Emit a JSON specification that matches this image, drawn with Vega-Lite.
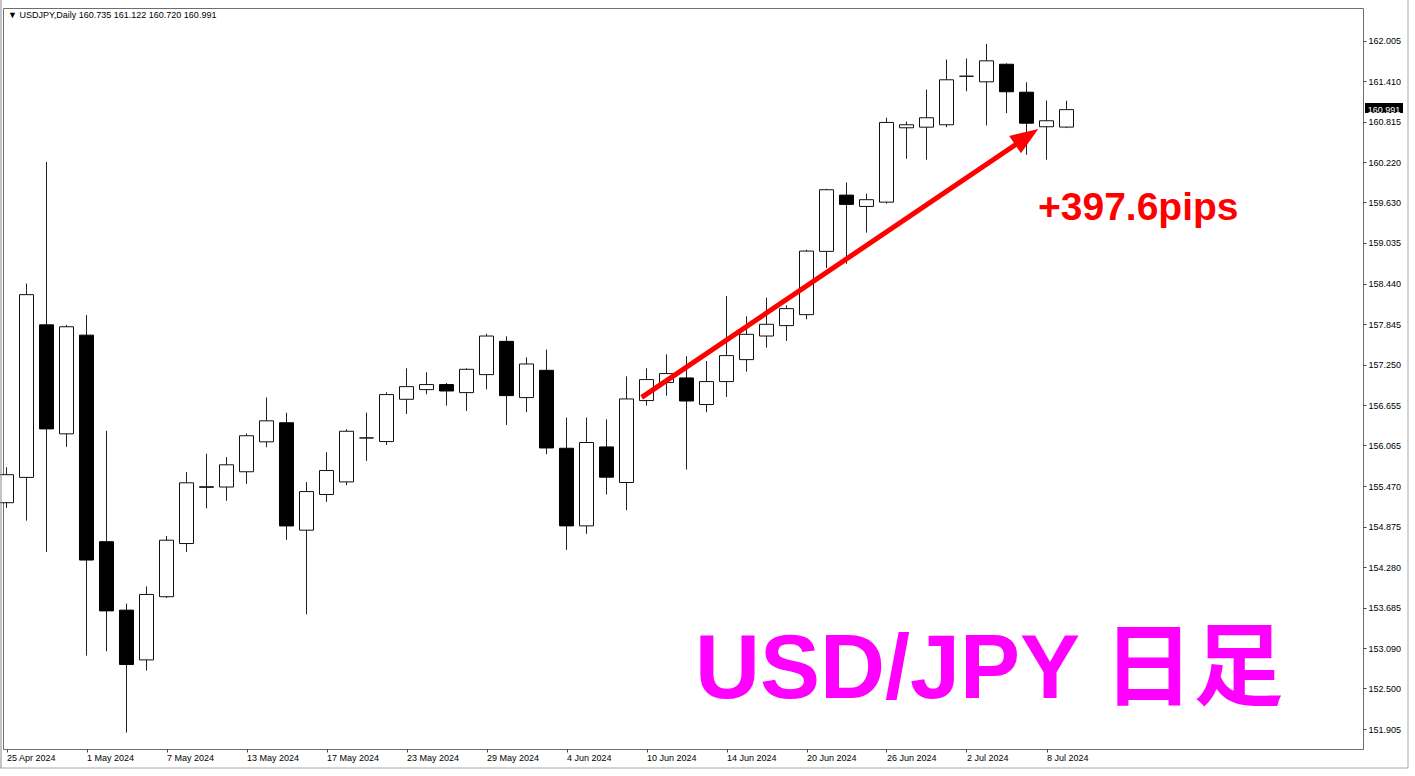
{
  "$schema": "https://vega.github.io/schema/vega-lite/v6.json",
  "width": 1360,
  "height": 741,
  "autosize": {"type": "none"},
  "padding": {"left": 3, "top": 8, "right": 52, "bottom": 27},
  "background": "white",
  "config": {
    "view": {"stroke": "#6e6e6e", "strokeWidth": 1},
    "font": "Liberation Sans",
    "scale": {"continuousPadding": 0}
  },
  "datasets": {
    "candles": [
      {"i": 0, "d": "25 Apr", "o": 155.225, "h": 155.746, "l": 155.15, "c": 155.636},
      {"i": 1, "d": "26 Apr", "o": 155.596, "h": 158.44, "l": 154.962, "c": 158.277},
      {"i": 2, "d": "29 Apr", "o": 157.834, "h": 160.224, "l": 154.502, "c": 156.308},
      {"i": 3, "d": "30 Apr", "o": 156.235, "h": 157.834, "l": 156.044, "c": 157.806},
      {"i": 4, "d": "1 May", "o": 157.683, "h": 157.979, "l": 152.982, "c": 154.384},
      {"i": 5, "d": "2 May", "o": 154.653, "h": 156.28, "l": 153.044, "c": 153.638},
      {"i": 6, "d": "3 May", "o": 153.649, "h": 153.745, "l": 151.854, "c": 152.852},
      {"i": 7, "d": "6 May", "o": 152.919, "h": 153.997, "l": 152.762, "c": 153.879},
      {"i": 8, "d": "7 May", "o": 153.846, "h": 154.737, "l": 153.828, "c": 154.675},
      {"i": 9, "d": "8 May", "o": 154.626, "h": 155.674, "l": 154.502, "c": 155.517},
      {"i": 10, "d": "9 May", "o": 155.45, "h": 155.943, "l": 155.142, "c": 155.46},
      {"i": 11, "d": "10 May", "o": 155.455, "h": 155.894, "l": 155.253, "c": 155.781},
      {"i": 12, "d": "13 May", "o": 155.679, "h": 156.241, "l": 155.501, "c": 156.207},
      {"i": 13, "d": "14 May", "o": 156.118, "h": 156.769, "l": 156.039, "c": 156.426},
      {"i": 14, "d": "15 May", "o": 156.398, "h": 156.544, "l": 154.681, "c": 154.884},
      {"i": 15, "d": "16 May", "o": 154.822, "h": 155.528, "l": 153.588, "c": 155.388},
      {"i": 16, "d": "17 May", "o": 155.345, "h": 155.965, "l": 155.237, "c": 155.697},
      {"i": 17, "d": "20 May", "o": 155.53, "h": 156.302, "l": 155.482, "c": 156.273},
      {"i": 18, "d": "21 May", "o": 156.175, "h": 156.547, "l": 155.838, "c": 156.175},
      {"i": 19, "d": "22 May", "o": 156.122, "h": 156.845, "l": 156.072, "c": 156.811},
      {"i": 20, "d": "23 May", "o": 156.742, "h": 157.197, "l": 156.527, "c": 156.928},
      {"i": 21, "d": "24 May", "o": 156.884, "h": 157.138, "l": 156.816, "c": 156.958},
      {"i": 22, "d": "27 May", "o": 156.958, "h": 156.981, "l": 156.65, "c": 156.864},
      {"i": 23, "d": "28 May", "o": 156.84, "h": 157.197, "l": 156.571, "c": 157.182},
      {"i": 24, "d": "29 May", "o": 157.104, "h": 157.705, "l": 156.889, "c": 157.67},
      {"i": 25, "d": "30 May", "o": 157.592, "h": 157.666, "l": 156.366, "c": 156.796},
      {"i": 26, "d": "31 May", "o": 156.767, "h": 157.358, "l": 156.552, "c": 157.26},
      {"i": 27, "d": "3 Jun", "o": 157.167, "h": 157.471, "l": 155.936, "c": 156.028},
      {"i": 28, "d": "4 Jun", "o": 156.024, "h": 156.474, "l": 154.533, "c": 154.885},
      {"i": 29, "d": "5 Jun", "o": 154.885, "h": 156.474, "l": 154.768, "c": 156.108},
      {"i": 30, "d": "6 Jun", "o": 156.043, "h": 156.449, "l": 155.345, "c": 155.599},
      {"i": 31, "d": "7 Jun", "o": 155.521, "h": 157.079, "l": 155.115, "c": 156.747},
      {"i": 32, "d": "10 Jun", "o": 156.723, "h": 157.197, "l": 156.65, "c": 157.031},
      {"i": 33, "d": "11 Jun", "o": 156.987, "h": 157.402, "l": 156.796, "c": 157.119},
      {"i": 34, "d": "12 Jun", "o": 157.055, "h": 157.373, "l": 155.712, "c": 156.717},
      {"i": 35, "d": "13 Jun", "o": 156.665, "h": 157.304, "l": 156.552, "c": 157.002},
      {"i": 36, "d": "14 Jun", "o": 157.002, "h": 158.256, "l": 156.776, "c": 157.383},
      {"i": 37, "d": "17 Jun", "o": 157.324, "h": 157.959, "l": 157.148, "c": 157.695},
      {"i": 38, "d": "18 Jun", "o": 157.67, "h": 158.233, "l": 157.5, "c": 157.842},
      {"i": 39, "d": "19 Jun", "o": 157.823, "h": 158.12, "l": 157.597, "c": 158.072},
      {"i": 40, "d": "20 Jun", "o": 157.984, "h": 158.937, "l": 157.915, "c": 158.916},
      {"i": 41, "d": "21 Jun", "o": 158.912, "h": 159.83, "l": 158.667, "c": 159.816},
      {"i": 42, "d": "24 Jun", "o": 159.737, "h": 159.923, "l": 158.731, "c": 159.601},
      {"i": 43, "d": "25 Jun", "o": 159.571, "h": 159.758, "l": 159.186, "c": 159.67},
      {"i": 44, "d": "26 Jun", "o": 159.634, "h": 160.872, "l": 159.611, "c": 160.803},
      {"i": 45, "d": "27 Jun", "o": 160.725, "h": 160.817, "l": 160.271, "c": 160.769},
      {"i": 46, "d": "28 Jun", "o": 160.734, "h": 161.286, "l": 160.256, "c": 160.872},
      {"i": 47, "d": "1 Jul", "o": 160.769, "h": 161.726, "l": 160.734, "c": 161.429},
      {"i": 48, "d": "2 Jul", "o": 161.481, "h": 161.741, "l": 161.261, "c": 161.481},
      {"i": 49, "d": "3 Jul", "o": 161.399, "h": 161.956, "l": 160.759, "c": 161.707},
      {"i": 50, "d": "4 Jul", "o": 161.657, "h": 161.67, "l": 160.939, "c": 161.253},
      {"i": 51, "d": "5 Jul", "o": 161.247, "h": 161.393, "l": 160.329, "c": 160.792},
      {"i": 52, "d": "8 Jul", "o": 160.74, "h": 161.125, "l": 160.256, "c": 160.828},
      {"i": 53, "d": "9 Jul", "o": 160.735, "h": 161.122, "l": 160.72, "c": 160.991}
    ]
  },
  "data": {"name": "candles"},
  "layer": [
    {
      "mark": {"type": "rule", "color": "#222222", "strokeWidth": 1},
      "encoding": {
        "x": {
          "field": "i", "type": "quantitative",
          "scale": {"domain": [-0.175, 67.825], "nice": false, "zero": false, "padding": 0},
          "axis": {
            "orient": "bottom",
            "values": [0, 4, 8, 12, 16, 20, 24, 28, 32, 36, 40, 44, 48, 52],
            "labelExpr": "['25 Apr 2024','1 May 2024','7 May 2024','13 May 2024','17 May 2024','23 May 2024','29 May 2024','4 Jun 2024','10 Jun 2024','14 Jun 2024','20 Jun 2024','26 Jun 2024','2 Jul 2024','8 Jul 2024'][round(datum.value/4)]",
            "title": null, "grid": false, "domain": false,
            "tickSize": 3, "tickColor": "#444444",
            "labelAlign": "left", "labelBaseline": "top", "labelPadding": 1,
            "labelFontSize": 9, "labelFont": "Liberation Sans", "labelColor": "#000000",
            "labelOverlap": false, "labelBound": false, "labelFlush": false
          }
        },
        "y": {
          "field": "l", "type": "quantitative",
          "scale": {"domain": [151.612, 162.482], "nice": false, "zero": false, "padding": 0},
          "axis": {
            "orient": "right",
            "values": [151.905, 152.5, 153.09, 153.685, 154.28, 154.875, 155.47, 156.065, 156.655, 157.25, 157.845, 158.44, 159.035, 159.63, 160.22, 160.815, 161.41, 162.005],
            "format": ".3f", "title": null, "grid": false, "domain": false,
            "tickSize": 3, "tickColor": "#444444",
            "labelFontSize": 9, "labelFont": "Liberation Sans", "labelColor": "#000000",
            "labelPadding": 2, "labelBaseline": "middle", "labelOverlap": false, "labelBound": false, "labelFlush": false
          }
        },
        "y2": {"field": "h"}
      }
    },
    {
      "transform": [{"filter": "datum.c >= datum.o"}],
      "mark": {"type": "bar", "size": 14, "fill": "#ffffff", "stroke": "#111111", "strokeWidth": 1},
      "encoding": {
        "x": {"field": "i", "type": "quantitative"},
        "y": {"field": "o", "type": "quantitative"},
        "y2": {"field": "c"}
      }
    },
    {
      "transform": [{"filter": "datum.c < datum.o"}],
      "mark": {"type": "bar", "size": 14, "fill": "#000000", "stroke": "#000000", "strokeWidth": 1},
      "encoding": {
        "x": {"field": "i", "type": "quantitative"},
        "y": {"field": "o", "type": "quantitative"},
        "y2": {"field": "c"}
      }
    },
    {
      "data": {"values": [{}]},
      "mark": {"type": "rule", "color": "#a8a8a8", "strokeWidth": 1},
      "encoding": {
        "x": {"datum": 70.075, "type": "quantitative"},
        "y": {"datum": 162.599, "type": "quantitative"},
        "y2": {"datum": 151.333}
      }
    },
    {
      "data": {"values": [{}]},
      "mark": {"type": "rule", "color": "#a8a8a8", "strokeWidth": 1},
      "encoding": {
        "x": {"datum": -0.325, "type": "quantitative"},
        "x2": {"datum": 70.075},
        "y": {"datum": 151.333, "type": "quantitative"}
      }
    },
    {
      "data": {"values": [{}]},
      "mark": {"type": "rule", "color": "#8a8a8a", "strokeWidth": 1},
      "encoding": {
        "x": {"datum": -0.275, "type": "quantitative"},
        "y": {"datum": 162.599, "type": "quantitative"},
        "y2": {"datum": 151.333}
      }
    },
    {
      "data": {"values": [{}]},
      "mark": {"type": "rule", "color": "#ff0000", "strokeWidth": 5, "strokeCap": "butt"},
      "encoding": {
        "x": {"datum": 31.76, "type": "quantitative"},
        "y": {"datum": 156.771, "type": "quantitative"},
        "x2": {"datum": 51.0},
        "y2": {"datum": 160.585}
      }
    },
    {
      "data": {"values": [{}]},
      "mark": {"type": "point", "shape": "M0,-1L0.75,1L-0.75,1Z", "filled": true, "color": "#ff0000", "opacity": 1, "size": 784, "angle": 56},
      "encoding": {
        "x": {"datum": 51.01, "type": "quantitative"},
        "y": {"datum": 160.592, "type": "quantitative"}
      }
    },
    {
      "data": {"values": [{}]},
      "mark": {"type": "text", "text": "+397.6pips", "font": "'Liberation Sans', Arial, sans-serif", "fontSize": 39, "fontWeight": "bold", "color": "#ff0000", "align": "left", "baseline": "alphabetic"},
      "encoding": {
        "x": {"datum": 51.575, "type": "quantitative"},
        "y": {"datum": 159.372, "type": "quantitative"}
      }
    },
    {
      "data": {"values": [{}]},
      "mark": {"type": "text", "text": "USD/JPY 日足", "font": "'Liberation Sans', 'Noto Sans CJK JP', sans-serif", "fontSize": 90, "fontWeight": "bold", "color": "#ff00ff", "align": "left", "baseline": "alphabetic"},
      "encoding": {
        "x": {"datum": 34.425, "type": "quantitative"},
        "y": {"datum": 152.36, "type": "quantitative"}
      }
    },
    {
      "data": {"values": [{}]},
      "mark": {"type": "text", "text": "▼ USDJPY,Daily  160.735 161.122 160.720 160.991", "font": "'Liberation Sans', 'DejaVu Sans', sans-serif", "fontSize": 9, "color": "#000000", "align": "left", "baseline": "middle"},
      "encoding": {
        "x": {"datum": 0.075, "type": "quantitative"},
        "y": {"datum": 162.379, "type": "quantitative"}
      }
    },
    {
      "data": {"values": [{}]},
      "mark": {"type": "rect", "fill": "#000000"},
      "encoding": {
        "x": {"datum": 67.925, "type": "quantitative"},
        "x2": {"datum": 69.825},
        "y": {"datum": 161.088, "type": "quantitative"},
        "y2": {"datum": 160.942}
      }
    },
    {
      "data": {"values": [{}]},
      "mark": {"type": "text", "text": "160.991", "font": "Liberation Sans", "fontSize": 9, "color": "#ffffff", "align": "center", "baseline": "middle"},
      "encoding": {
        "x": {"datum": 68.875, "type": "quantitative"},
        "y": {"datum": 160.991, "type": "quantitative"}
      }
    }
  ]
}
